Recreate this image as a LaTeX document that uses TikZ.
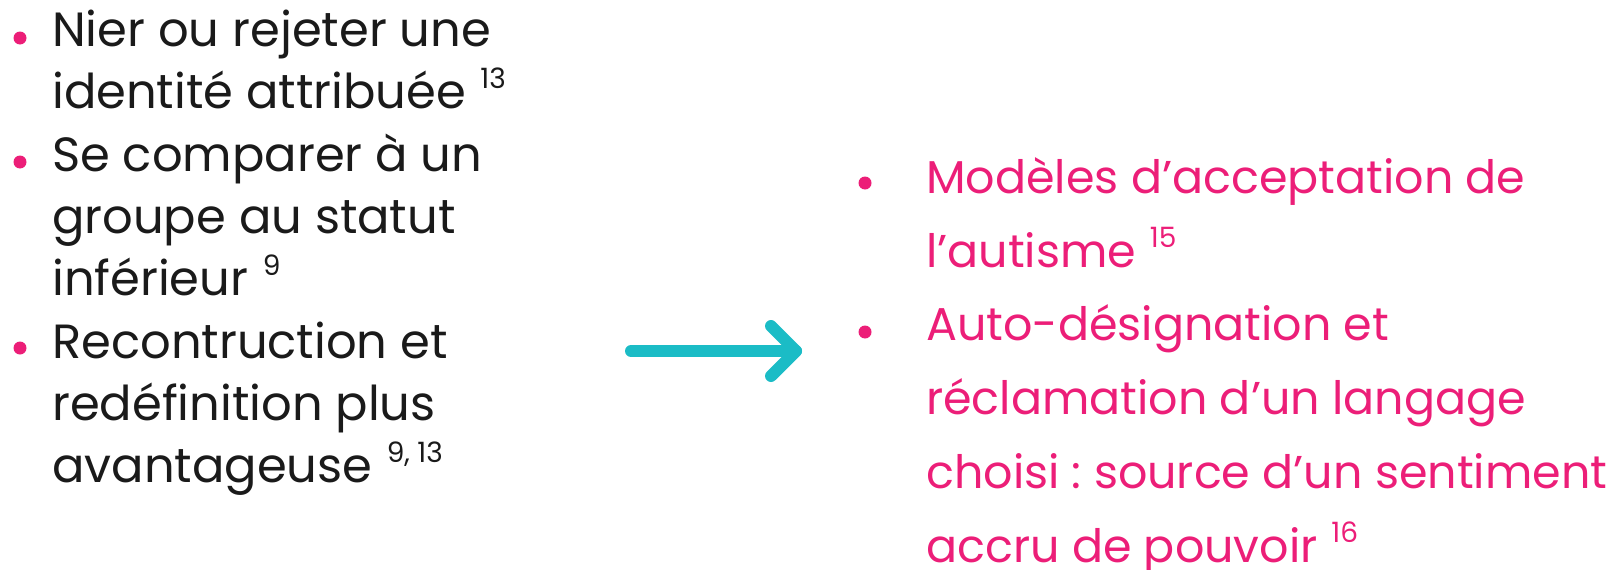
\documentclass[tikz,border=0pt]{standalone}
\usepackage{fontspec}
\setmainfont{Poppins}
\usetikzlibrary{calc}
\definecolor{rose}{HTML}{EC1E78}
\definecolor{arrowteal}{HTML}{1BBCC6}
\definecolor{inkblack}{HTML}{1A1A1A}
\newcommand{\srcnum}[1]{\hspace{0.3em}\raisebox{20pt}{\fontsize{28}{28}\selectfont #1}}
\frenchspacing

\begin{document}
\begin{tikzpicture}[x=1pt,y=-1pt]
  \tikzset{BulletStyle/.style = {shape          = circle,
                                 fill           = rose,
                                 inner sep      = 0pt,
                                 minimum size   = 13pt}}
  \tikzset{ItemStyle/.style   = {anchor         = base west,
                                 align          = left,
                                 inner sep      = 0pt,
                                 text           = inkblack,
                                 font           = \fontsize{48}{62}\selectfont}}
  \tikzset{PinkItemStyle/.style = {ItemStyle,
                                 text           = rose,
                                 font           = \fontsize{46}{74}\selectfont}}
  \tikzset{ArrowStyle/.style  = {draw           = arrowteal,
                                 line width     = 12pt,
                                 line cap       = round,
                                 line join      = round}}

\useasboundingbox (0,0) rectangle (1622,570);

% bullets and text blocks (base = last line)
\coordinate (L1) at (20,38);
\coordinate (L2) at (20,162);
\coordinate (L3) at (20,348);
\coordinate (R1) at (865,183);
\coordinate (R2) at (865,332);
\coordinate (ArrowStart) at (631,351);
\coordinate (ArrowTip) at (796,351);

\node[BulletStyle] (B1) at (L1) {};
\node[BulletStyle] (B2) at (L2) {};
\node[BulletStyle] (B3) at (L3) {};
\node[BulletStyle] (B4) at (R1) {};
\node[BulletStyle] (B5) at (R2) {};

\node[ItemStyle] (T1) at (52,108) {Nier ou rejeter une\\identité attribuée\srcnum{13}};
\node[ItemStyle] (T2) at (52,295) {Se comparer à un\\groupe au statut\\inférieur\srcnum{9}};
\node[ItemStyle] (T3) at (52,482) {Recontruction et\\redéfinition plus\\avantageuse\srcnum{9, 13}};

\node[PinkItemStyle] (T4) at (926,267) {Modèles d’acceptation de\\l’autisme\srcnum{15}};
\node[PinkItemStyle] (T5) at (926,562) {Auto-désignation et\\réclamation d’un langage\\choisi : source d’un sentiment\\accru de pouvoir\srcnum{16}};

\draw[ArrowStyle] (ArrowStart) -- (ArrowTip);
\draw[ArrowStyle] ($(ArrowTip)+(-25,-25)$) -- (ArrowTip) -- ($(ArrowTip)+(-25,25)$);
\end{tikzpicture}
\end{document}
